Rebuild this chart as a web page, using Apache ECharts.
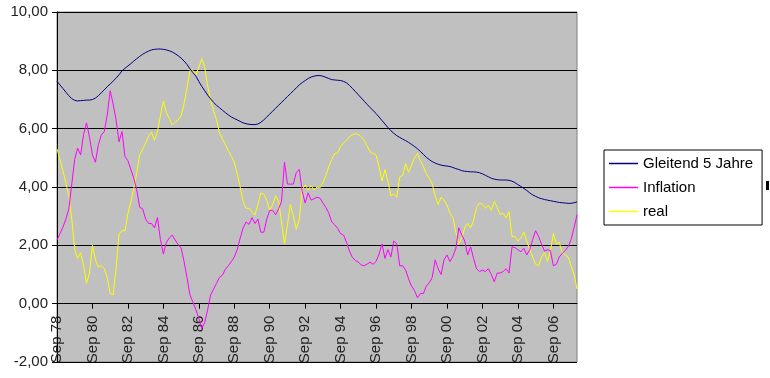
<!DOCTYPE html>
<html>
<head>
<meta charset="utf-8">
<script src="https://cdn.jsdelivr.net/npm/echarts@6/dist/echarts.min.js"></script>
<style>
html, body { margin: 0; padding: 0; background: #fff; }
#chart { width: 770px; height: 378px; }
</style>
</head>
<body>
<div id="chart"></div>
<script>
// bimonthly points, Sep 78 .. Jan 08
var months = ['Jan', 'Feb', 'Mar', 'Apr', 'May', 'Jun', 'Jul', 'Aug', 'Sep', 'Oct', 'Nov', 'Dec'];
var categories = [];
for (var i = 0; i < 177; i++) {
    var m = 8 + i * 2;
    var y = (78 + Math.floor(m / 12)) % 100;
    categories.push(months[m % 12] + ' ' + (y < 10 ? '0' + y : y));
}

var gleitend = [
    7.62, 7.5, 7.38, 7.25, 7.13, 7.03, 6.97, 6.95, 6.96, 6.97, 6.98, 6.98,
    7.0, 7.05, 7.13, 7.23, 7.33, 7.44, 7.53, 7.63, 7.73, 7.85, 7.98, 8.07,
    8.15, 8.23, 8.32, 8.4, 8.48, 8.55, 8.61, 8.66, 8.7, 8.72, 8.73, 8.73,
    8.72, 8.7, 8.67, 8.63, 8.57, 8.5, 8.42, 8.32, 8.2, 8.05, 7.92, 7.8,
    7.62, 7.45, 7.3, 7.15, 7.02, 6.9, 6.8, 6.72, 6.63, 6.55, 6.47, 6.4,
    6.35, 6.3, 6.25, 6.2, 6.17, 6.15, 6.14, 6.14, 6.16, 6.22, 6.3, 6.4,
    6.5, 6.6, 6.7, 6.8, 6.9, 7.0, 7.1, 7.2, 7.3, 7.4, 7.5, 7.58,
    7.65, 7.72, 7.77, 7.8, 7.82, 7.82, 7.8, 7.76, 7.72, 7.68, 7.67, 7.66,
    7.65, 7.62, 7.57, 7.48, 7.38, 7.27, 7.16, 7.05, 6.94, 6.83, 6.72, 6.62,
    6.52, 6.4, 6.28, 6.16, 6.04, 5.93, 5.84, 5.76, 5.7, 5.64, 5.59, 5.53,
    5.46, 5.39, 5.31, 5.22, 5.12, 5.02, 4.94, 4.87, 4.82, 4.78, 4.75, 4.73,
    4.72, 4.7, 4.67, 4.63, 4.6, 4.56, 4.54, 4.53, 4.52, 4.52, 4.51, 4.49,
    4.45, 4.4, 4.35, 4.3, 4.27, 4.25, 4.24, 4.24, 4.24, 4.23, 4.2, 4.15,
    4.08, 4.02, 3.95, 3.88, 3.8, 3.73, 3.68, 3.63, 3.6, 3.57, 3.55, 3.53,
    3.51, 3.49, 3.47, 3.46, 3.45, 3.44, 3.44, 3.46, 3.49
];

var inflation = [
    2.18, 2.4, 2.62, 2.9, 3.25, 4.1, 4.95, 5.33, 5.1, 5.8, 6.2, 5.7,
    5.1, 4.85, 5.45, 5.78, 5.9, 6.47, 7.3, 6.85, 6.3, 5.55, 5.9, 5.05,
    4.9, 4.6, 4.3, 3.9, 3.3, 3.25, 2.9, 2.75, 2.75, 2.6, 2.95, 2.2,
    1.7, 2.1, 2.25, 2.35, 2.18, 2.02, 1.92, 1.45, 0.9, 0.3, 0.05, -0.2,
    -0.5, -0.85, -0.65, -0.2, 0.3, 0.5, 0.7, 0.9, 0.98, 1.18, 1.3, 1.44,
    1.6, 1.85, 2.25, 2.6, 2.8, 2.72, 2.95, 2.75, 2.9, 2.45, 2.45, 2.9,
    3.2, 3.2, 3.05, 3.25, 3.5, 4.85, 4.1, 4.1, 4.1, 4.5, 4.6, 3.85,
    3.45, 3.8, 3.55, 3.6, 3.65, 3.62, 3.45, 3.3, 3.1, 2.8, 2.7, 2.58,
    2.4, 2.35, 2.1, 1.8, 1.58, 1.48, 1.42, 1.33, 1.3, 1.36, 1.42, 1.35,
    1.45, 1.7, 2.05, 1.55, 1.85, 1.6, 2.15, 2.05, 1.3, 1.3, 1.15, 0.85,
    0.6, 0.45, 0.2, 0.35, 0.35, 0.6, 0.72, 0.9, 1.5, 1.2, 1.0, 1.5,
    1.67, 1.44, 1.62, 1.9, 2.6, 2.35, 2.15, 1.67, 1.95, 1.55, 1.2, 1.1,
    1.15, 1.1, 1.2, 1.0, 0.75, 1.05, 1.05, 1.1, 1.2, 1.05, 1.95, 1.92,
    1.85, 1.78, 1.9, 1.67, 1.85, 2.2, 2.5, 2.3, 2.05, 1.8, 1.85, 1.82,
    1.3, 1.35, 1.6, 1.72, 1.82, 1.95, 2.2, 2.6, 3.05
];

var real = [
    5.3, 4.95, 4.55, 4.15, 3.7, 2.9, 1.85, 1.55, 1.75, 1.3, 0.7, 1.05,
    2.0, 1.5, 1.25, 1.3, 1.2, 0.9, 0.35, 0.3, 1.2, 2.4, 2.5, 2.5,
    3.1, 3.5, 3.95, 4.5, 5.1, 5.3, 5.5, 5.75, 5.88, 5.6, 5.9, 6.45,
    6.95, 6.55, 6.35, 6.13, 6.22, 6.3, 6.45, 6.85, 7.4, 8.0, 8.0, 7.85,
    8.1, 8.4, 8.1, 7.45, 7.0, 6.6, 6.3, 5.85, 5.65, 5.45, 5.25, 5.05,
    4.85, 4.45, 4.0, 3.5, 3.27, 3.27, 3.15, 3.04, 3.4, 3.8, 3.75, 3.55,
    3.2, 3.4, 3.7, 3.5, 2.8, 2.05, 2.7, 3.4, 3.0, 2.55, 2.9, 3.9,
    4.07, 3.9, 4.05, 3.9, 4.0, 3.97, 4.15, 4.4, 4.7, 4.95, 5.15, 5.17,
    5.4, 5.5, 5.6, 5.73, 5.78, 5.83, 5.8, 5.72, 5.6, 5.4, 5.2, 5.15,
    5.1, 4.7, 4.2, 4.6, 4.2, 3.7, 3.75, 3.65, 4.35, 4.4, 4.8, 4.5,
    4.75, 5.0, 5.15, 4.9, 4.7, 4.45, 4.3, 4.1, 3.7, 3.4, 3.65, 3.55,
    3.38, 3.1, 2.95, 2.45, 2.05, 2.25, 2.6, 2.75, 2.6, 2.85, 3.3, 3.45,
    3.4, 3.27, 3.38, 3.2, 3.5, 3.3, 3.05, 3.1, 2.95, 3.15, 2.3, 2.3,
    2.15, 2.25, 2.45, 2.15, 1.85, 1.6, 1.35, 1.3, 1.6, 1.75, 1.45, 1.8,
    2.4, 2.05, 2.1, 1.75, 1.67, 1.6, 1.3, 1.0, 0.5
];

var yMin = -2;
var yMax = 10;
var plotTop = 12;
var plotBottom = 16;
var plotHeight = 378 - plotTop - plotBottom;

var chart = echarts.init(document.getElementById('chart'));
var fontFamily = '"Liberation Sans", Arial, sans-serif';

chart.setOption({
    animation: false,
    backgroundColor: '#ffffff',
    grid: {
        left: 57,
        right: 193,
        top: plotTop,
        bottom: plotBottom,
        show: true,
        backgroundColor: '#c0c0c0',
        borderColor: '#808080',
        borderWidth: 1
    },
    legend: {
        orient: 'vertical',
        left: 604,
        top: 150,
        padding: [5, 9, 5, 5],
        itemGap: 7,
        itemWidth: 29,
        itemHeight: 1.5,
        icon: 'rect',
        backgroundColor: '#ffffff',
        borderColor: '#000000',
        borderWidth: 1,
        borderRadius: 0,
        textStyle: { fontFamily: fontFamily, fontSize: 15, color: '#000', lineHeight: 17 },
        data: ['Gleitend 5 Jahre', 'Inflation', 'real']
    },
    xAxis: {
        type: 'category',
        position: 'bottom',
        // category axis crosses the value axis at 0
        offset: -plotHeight * (0 - yMin) / (yMax - yMin),
        boundaryGap: false,
        data: categories,
        axisLine: { onZero: false, lineStyle: { color: '#000', width: 1 } },
        axisTick: { interval: 11, length: 5, lineStyle: { color: '#000' } },
        axisLabel: {
            interval: 11,
            rotate: 90,
            margin: 12,
            fontFamily: fontFamily,
            fontSize: 15,
            color: '#222'
        },
        splitLine: { show: false }
    },
    yAxis: {
        type: 'value',
        min: yMin,
        max: yMax,
        interval: 2,
        axisLine: { show: true, lineStyle: { color: '#000' } },
        axisTick: { show: true, length: 5, lineStyle: { color: '#000' } },
        axisLabel: {
            margin: 9,
            fontFamily: fontFamily,
            fontSize: 15,
            color: '#222',
            formatter: function (v) { return v.toFixed(2).replace('.', ','); }
        },
        splitLine: { show: true, lineStyle: { color: '#000', width: 1 } }
    },
    series: [{
        name: 'Gleitend 5 Jahre',
        type: 'line',
        data: gleitend,
        symbol: 'none',
        color: '#000080',
        lineStyle: { width: 1 },
        z: 4
    }, {
        name: 'Inflation',
        type: 'line',
        data: inflation,
        symbol: 'none',
        color: '#ff00ff',
        lineStyle: { width: 1 },
        z: 3
    }, {
        name: 'real',
        type: 'line',
        data: real,
        symbol: 'none',
        color: '#ffff00',
        lineStyle: { width: 1 },
        z: 2
    }],
    graphic: [{
        type: 'rect',
        left: 766,
        top: 181,
        shape: { width: 3, height: 9 },
        style: { fill: '#000' }
    }]
});
</script>
</body>
</html>
